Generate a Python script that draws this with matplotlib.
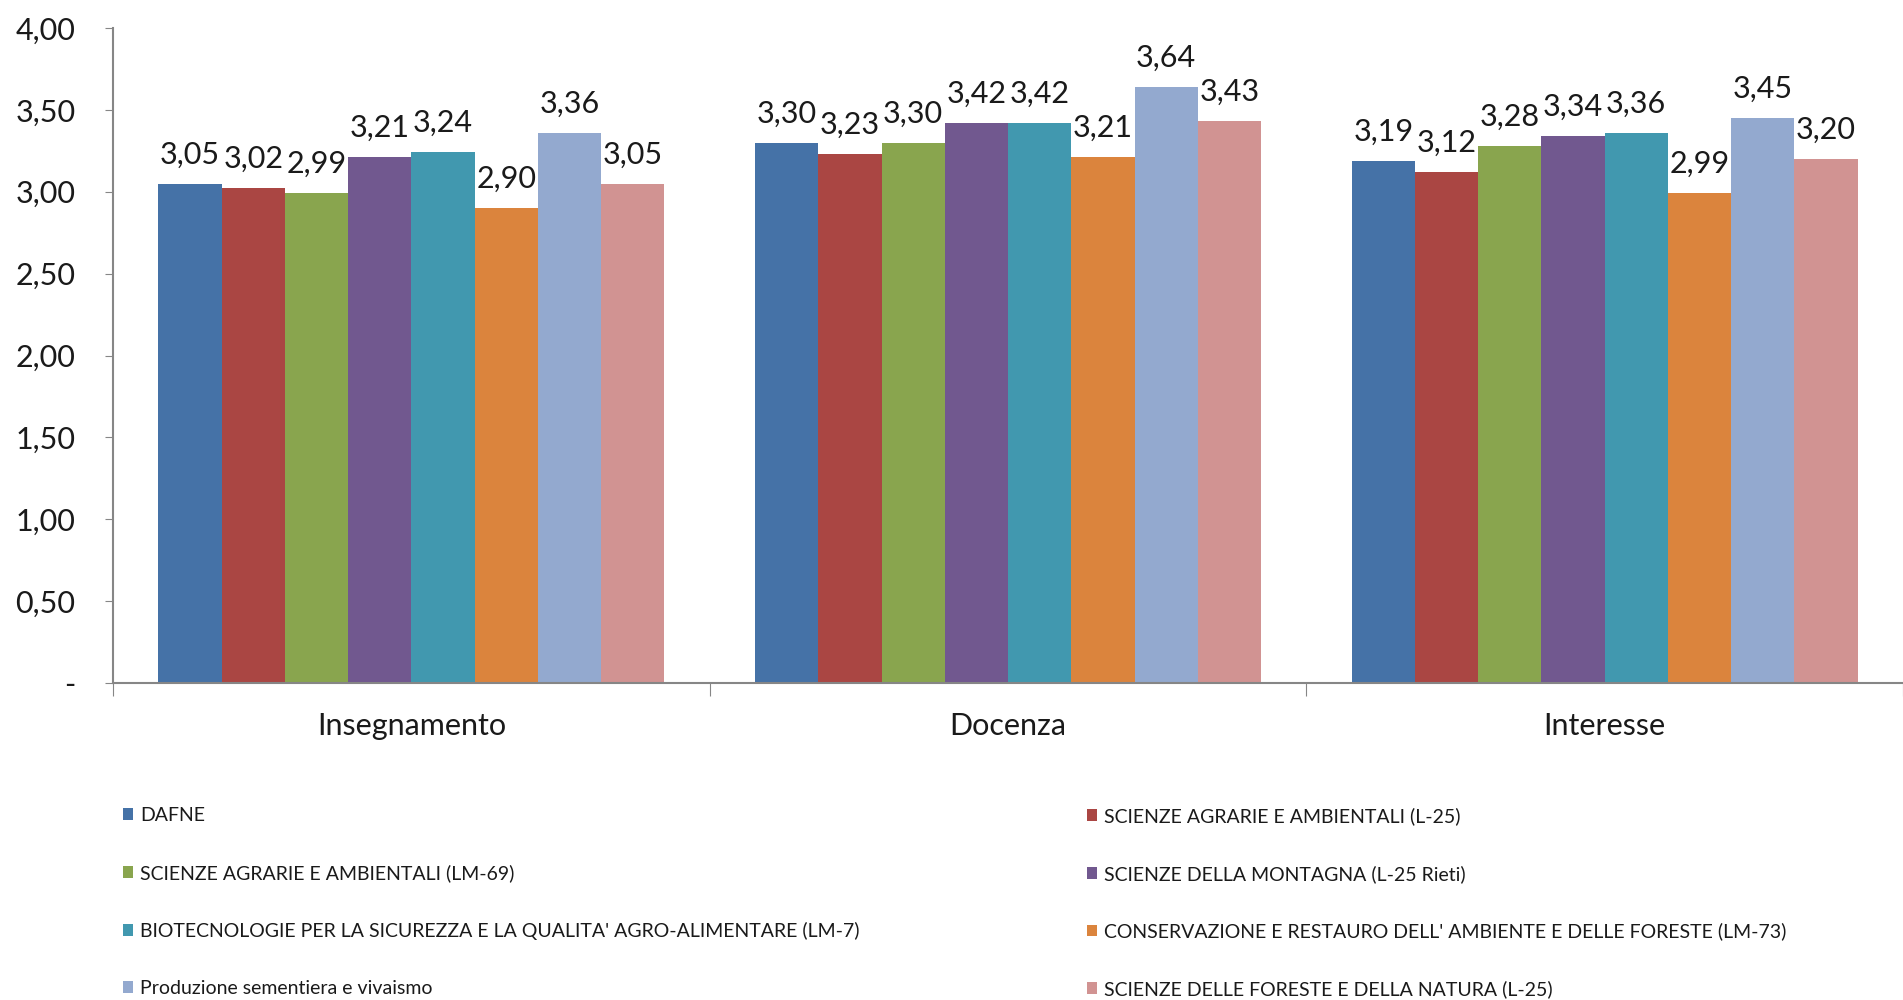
import numpy as np
import matplotlib.pyplot as plt
from matplotlib.patches import Patch

plt.rcParams['font.family'] = ['Lato', 'DejaVu Sans']

categories = ['Insegnamento', 'Docenza', 'Interesse']
series_names = [
    'DAFNE',
    'SCIENZE AGRARIE E AMBIENTALI (L-25)',
    'SCIENZE AGRARIE E AMBIENTALI (LM-69)',
    'SCIENZE DELLA MONTAGNA (L-25 Rieti)',
    "BIOTECNOLOGIE PER LA SICUREZZA E LA QUALITA' AGRO-ALIMENTARE (LM-7)",
    "CONSERVAZIONE E RESTAURO DELL' AMBIENTE E DELLE FORESTE (LM-73)",
    'Produzione sementiera e vivaismo',
    'SCIENZE DELLE FORESTE E DELLA NATURA (L-25)',
]
dafne = [3.05, 3.30, 3.19]
agrarie_l25 = [3.02, 3.23, 3.12]
agrarie_lm69 = [2.99, 3.30, 3.28]
montagna = [3.21, 3.42, 3.34]
biotecnologie = [3.24, 3.42, 3.36]
conservazione = [2.90, 3.21, 2.99]
sementiera = [3.36, 3.64, 3.45]
foreste = [3.05, 3.43, 3.20]
series = [dafne, agrarie_l25, agrarie_lm69, montagna,
          biotecnologie, conservazione, sementiera, foreste]
colors = ['#4572A7', '#AA4643', '#89A54E', '#71588F',
          '#4198AF', '#DB843D', '#93A9CF', '#D19392']

yticks = [0, 0.5, 1.0, 1.5, 2.0, 2.5, 3.0, 3.5, 4.0]


def it_fmt(v):
    return '{:.2f}'.format(v).replace('.', ',')


fig = plt.figure(figsize=(19.03, 10), dpi=100)
ax = fig.add_axes([0.0594, 0.317, 0.9406, 0.655])

x = np.arange(len(categories))
w = 0.106
for i, (vals, col) in enumerate(zip(series, colors)):
    pos = x + (i - 3.5) * w
    ax.bar(pos, vals, width=w, color=col, linewidth=0)
    for p, v in zip(pos, vals):
        ax.annotate(it_fmt(v), (p, v), xytext=(0, 11), textcoords='offset points',
                    ha='center', va='bottom', fontsize=22, color='#1a1a1a')

ax.set_xlim(-0.5, 2.5)
ax.set_ylim(0, 4.0)
ax.set_yticks(yticks)
ax.set_yticklabels(['-'] + [it_fmt(t) for t in yticks[1:]], fontsize=22, color='#1a1a1a')
ax.set_xticks([-0.5, 0.5, 1.5, 2.5])
ax.set_xticklabels([])
ax.set_xticks(x, minor=True)
ax.set_xticklabels(categories, minor=True, fontsize=22, color='#1a1a1a')
ax.tick_params(axis='x', which='major', length=9, color='#868686', direction='out')
ax.tick_params(axis='x', which='minor', length=0, pad=21)
ax.tick_params(axis='y', length=6, color='#868686', direction='out', pad=21)

for s in ['top', 'right']:
    ax.spines[s].set_visible(False)
for s in ['left', 'bottom']:
    ax.spines[s].set_color('#868686')
    ax.spines[s].set_linewidth(1.5)

handles = [Patch(facecolor=c, edgecolor='none') for c in colors]
for k, xpos in enumerate([0.0645, 0.571]):
    fig.legend(handles[k::2], series_names[k::2], loc='upper left',
               bbox_to_anchor=(xpos, 0.193), frameon=False, fontsize=14,
               handlelength=0.55, handleheight=0.55, handletextpad=0.35,
               labelspacing=2.05, borderpad=0, borderaxespad=0,
               labelcolor='#1a1a1a')

fig.savefig('out.png', dpi=100)
